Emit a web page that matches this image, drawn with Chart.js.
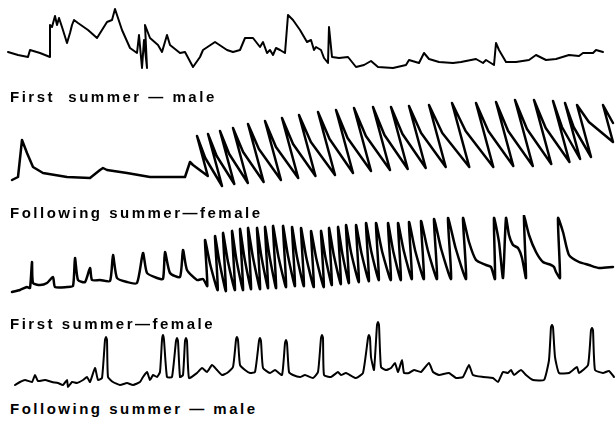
<!DOCTYPE html>
<html><head><meta charset="utf-8">
<script src="https://cdn.jsdelivr.net/npm/chart.js@4"></script>
<style>
html,body{margin:0;padding:0;background:#fff;}
#wrap{position:relative;width:616px;height:430px;overflow:hidden;background:#fff;}
canvas{position:absolute;left:0;}
.lbl{position:absolute;left:10px;font-family:"Liberation Sans",Arial,sans-serif;font-weight:bold;font-size:15px;line-height:15px;letter-spacing:2.5px;color:#000;white-space:pre;}
</style></head><body>
<div id="wrap">
<canvas id="c1" width="616" height="80" style="top:0px"></canvas>
<canvas id="c2" width="616" height="100" style="top:90px"></canvas>
<canvas id="c3" width="616" height="90" style="top:215px"></canvas>
<canvas id="c4" width="616" height="85" style="top:310px"></canvas>
<div class="lbl" id="l1" style="top:89px"></div>
<div class="lbl" id="l2" style="top:205px"></div>
<div class="lbl" id="l3" style="top:316px"></div>
<div class="lbl" id="l4" style="top:401px"></div>
</div>
<script>
// ---- labels ----
const labels = ["First  summer — male", "Following summer—female", "First summer—female", "Following summer — male"];

// ---- trace 1: First summer — male (time, amplitude) ----
const t1 = [8,18,28,30,40,50,50,52,55,57,59,62,67,70,72,74,78,88,97,102,107,112,115,118,122,130,137,139,142,144,147,145,150,158,162,167,170,180,185,193,200,203,215,227,233,240,245,253,260,263,267,270,273,276,280,285,288,293,300,307,311,314,316,321,324,328,329,332,339,348,356,364,371,378,393,406,409,419,424,429,439,453,461,476,483,486,494,496,499,506,516,529,536,546,556,569,579,583,593,596,603];
const v1 = [28,25,23,30,27,23,55,53,64,55,62,53,37,47,55,60,57,50,42,50,58,60,71,62,50,32,27,45,12,40,12,55,42,35,28,45,35,27,28,13,23,30,38,30,28,30,42,42,33,38,27,30,25,32,30,27,65,60,50,38,40,30,33,30,22,17,53,23,22,23,13,15,19,13,12,15,20,17,27,21,18,17,18,21,17,20,15,37,30,18,18,20,25,20,21,25,24,27,27,30,28];

// ---- trace 2: Following summer — female ----
const t2Pre = [12,18,22,27,33,43,67,90,100,103,107,127,150,185,190,193];
const v2Pre = [10,13,50,37,23,17,13,12,20,22,20,17,13,13,28,25];
const c2PeakT  = [197,208,220,233,248,265,282,299,318,336,354,373,391,409,429,452,476,496,515,534,553,565,577,603];
const c2Peak   = [54,56,59,62,66,69,72,75,78,80,82,83,83,84,85,87,87,88,90,90,89,87,85,85];
const c2Trough = [14,4,6,7,8,10,12,14,15,17,19,20,21,22,23,23,23,24,24,26,28,31,33,48];
const c2Knee   = [32,34,36,38,41,43,46,48,51,52,54,55,56,57,57,59,59,59,61,62,63,63,68];
const t2End = [613];
const v2End = [67];

// ---- trace 3: First summer — female ----
const t3Pre = [12,20,27,30,32,33,40,47,53,55,67,73,75,78,85,90,92,100,110,113,117,127,137,143,147,157,163,165,170,180,183,187,197,203];
const v3Pre = [13,15,18,17,43,22,20,22,28,18,18,19,47,25,23,37,25,25,24,50,27,23,22,52,32,27,26,53,32,28,55,35,25,26];
const c3PeakT    = [205,215,223,232,240,248,257,265,273,283,292,301,311,321,329,338,346,356,366,376,388,398,409,421,434,448,463];
const c3Peak     = [65,69,72,74,76,77,77,78,79,79,78,77,74,74,77,78,80,80,82,82,82,82,83,84,86,87,87];
const c3Trough   = [19,15,14,15,15,16,16,17,17,18,19,19,18,18,20,21,22,23,24,25,25,25,26,26,26,26,26];
const c3Shoulder = [40,42,43,44,46,47,47,48,48,49,48,47,46,47,49,50,51,52,53,53,53,54,54,55,56,57];
const t3Post = [469,476,486,491,495,494,499,503,506,509,513,518,522,526,524,529,536,543,551,554,556,560,558,563,569,579,589,599,613];
const v3Post = [63,45,40,38,26,87,63,27,87,70,60,57,47,27,90,70,53,43,40,38,33,27,87,73,50,43,40,37,38];

// ---- trace 4: Following summer — male ----
const t4 = [15,20,25,32,35,38,45,52,58,63,67,68,72,77,83,87,90,95,98,102,105,106,107,108,113,120,127,133,140,143,147,150,153,157,160,162,163,164,167,172,176,177,178,180,183,185,186,187,189,197,202,207,212,217,222,227,233,236,237,238,240,245,250,255,259,260,261,263,270,275,282,285,286,287,289,293,300,305,313,318,321,322,323,324,331,338,341,346,356,363,368,369,370,371,374,377,378,379,381,386,391,395,398,402,404,409,414,421,429,433,439,449,456,463,469,473,483,493,498,503,508,511,514,521,526,533,544,549,551,552,553,555,559,569,577,579,588,591,592,593,595,603,609,614];
const v4 = [10,13,15,13,20,14,15,13,12,10,15,8,13,12,15,18,13,27,15,17,55,58,55,18,13,10,12,10,13,18,23,15,20,18,23,55,60,55,18,18,54,57,54,18,20,54,57,54,17,22,27,23,30,25,20,22,28,55,58,55,30,25,22,23,54,57,54,27,22,25,20,52,55,52,23,20,18,20,17,23,57,60,57,20,18,23,20,22,17,22,57,60,57,38,25,70,73,70,28,25,27,32,23,35,22,22,25,23,32,23,20,22,17,18,30,20,18,17,13,23,22,25,20,25,20,15,15,35,68,70,68,38,22,22,28,22,30,65,67,65,25,22,24,18];

// ---- build helpers ----
function zip(t, v) { return t.map((x, i) => ({x: x, y: v[i]})); }
function cycles(peakT, peak, trough, mid, slant, midFrac) {
  const pts = [];
  const n = peakT.length;
  const foot = i => peakT[i] + slant * (peak[i] - trough[i]);
  for (let i = 0; i < n; i++) {
    pts.push({x: foot(i), y: trough[i]});
    pts.push({x: peakT[i], y: peak[i]});
    if (i < n - 1) pts.push({x: peakT[i] + midFrac * (foot(i + 1) - peakT[i]), y: mid[i]});
  }
  return pts;
}

const pts1 = zip(t1, v1);
const pts2 = zip(t2Pre, v2Pre).concat(cycles(c2PeakT, c2Peak, c2Trough, c2Knee, 0.27, 0.33), zip(t2End, v2End));
const pts3 = zip(t3Pre, v3Pre).concat(cycles(c3PeakT, c3Peak, c3Trough, c3Shoulder, 0.05, 0.42), zip(t3Post, v3Post));
const pts4 = zip(t4, v4);

function makeChart(id, pts, h, lw, tension) {
  new Chart(document.getElementById(id), {
    type: 'scatter',
    data: {datasets: [{data: pts, showLine: true, borderColor: '#000', borderWidth: lw, pointRadius: 0,
      tension: tension, clip: false, borderJoinStyle: 'round', borderCapStyle: 'round'}]},
    options: {
      responsive: false, animation: false, events: [],
      layout: {padding: 0},
      plugins: {legend: {display: false}, tooltip: {enabled: false}},
      scales: {
        x: {type: 'linear', display: false, min: 0, max: 616},
        y: {type: 'linear', display: false, min: 0, max: h}
      }
    }
  });
}
makeChart('c1', pts1, 80, 2, 0);
makeChart('c2', pts2, 100, 2.5, 0);
makeChart('c3', pts3, 90, 2.5, 0.2);
makeChart('c4', pts4, 85, 2, 0.15);

['l1','l2','l3','l4'].forEach((id, i) => { document.getElementById(id).textContent = labels[i]; });
</script>
</body></html>
